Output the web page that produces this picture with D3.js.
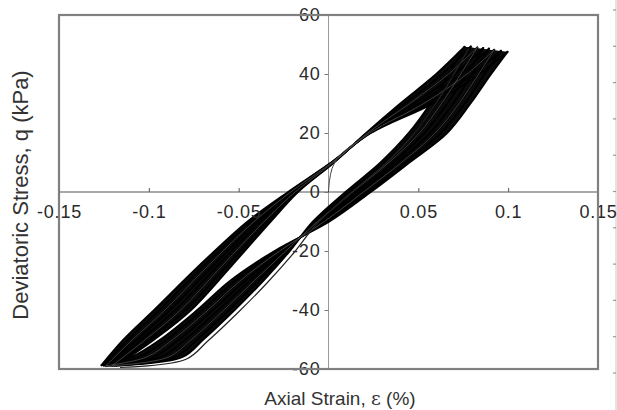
<!DOCTYPE html>
<html>
<head>
<meta charset="utf-8">
<script src="https://cdn.jsdelivr.net/npm/d3@7/dist/d3.min.js"></script>
<style>
  html, body { margin: 0; padding: 0; background: #fff; }
  svg { display: block; }
  text { font-family: "Liberation Sans", Arial, sans-serif; }
</style>
</head>
<body>
<svg id="chart" width="617" height="410"></svg>
<script>
// ---------------- data ----------------
const strainTicks = [-0.15, -0.1, -0.05, 0, 0.05, 0.1, 0.15];
const stressTicks = [-60, -40, -20, 0, 20, 40, 60];

// peak (top) and trough (bottom) corners of each cycle
const peakStrain   = [0.0757, 0.0792, 0.0828, 0.0861, 0.0893, 0.0922, 0.0960, 0.0996];
const peakStress   = [49.2, 49.3, 49.0, 48.8, 48.6, 48.2, 47.9, 47.5];
const troughStrain = [-0.1180, -0.1192, -0.1205, -0.1216, -0.1228, -0.1239, -0.1251, -0.1263];
const troughStress = [-58.8, -58.8, -58.9, -58.8, -58.8, -58.9, -58.8, -58.7];

// loading branches (trough -> peak): strain at these stress levels
const loadLevels = [-50, -40, -25, -10, 0, 10, 20, 30, 40];
const loadStrain = [
  [-0.0970, -0.0765, -0.0540, -0.0322, -0.0170, 0.0030, 0.0210, 0.0400, 0.0600],
  [-0.0995, -0.0795, -0.0565, -0.0340, -0.0178, 0.0028, 0.0214, 0.0426, 0.0634],
  [-0.1018, -0.0823, -0.0592, -0.0358, -0.0186, 0.0026, 0.0218, 0.0452, 0.0668],
  [-0.1042, -0.0852, -0.0618, -0.0377, -0.0194, 0.0023, 0.0222, 0.0478, 0.0703],
  [-0.1066, -0.0882, -0.0643, -0.0395, -0.0202, 0.0021, 0.0226, 0.0504, 0.0738],
  [-0.1090, -0.0910, -0.0670, -0.0414, -0.0210, 0.0019, 0.0229, 0.0530, 0.0771],
  [-0.1116, -0.0941, -0.0694, -0.0432, -0.0217, 0.0017, 0.0232, 0.0556, 0.0806],
  [-0.1140, -0.0970, -0.0720, -0.0450, -0.0225, 0.0015, 0.0235, 0.0580, 0.0840]
];

// unloading branches (peak -> trough): strain at these stress levels
const unloadLevels = [40, 30, 20, 10, 0, -10, -20, -30, -40, -50, -56];
const unloadStrain = [
  [0.0670, 0.0568, 0.0447, 0.0290, 0.0095, -0.0086, -0.0216, -0.0362, -0.0523, -0.0697, -0.0815],
  [0.0706, 0.0601, 0.0476, 0.0313, 0.0116, -0.0072, -0.0227, -0.0387, -0.0553, -0.0730, -0.0855],
  [0.0736, 0.0629, 0.0506, 0.0336, 0.0134, -0.0061, -0.0238, -0.0412, -0.0582, -0.0763, -0.0893],
  [0.0769, 0.0661, 0.0534, 0.0361, 0.0156, -0.0047, -0.0249, -0.0437, -0.0612, -0.0797, -0.0935],
  [0.0801, 0.0694, 0.0566, 0.0384, 0.0176, -0.0034, -0.0261, -0.0462, -0.0642, -0.0832, -0.0975],
  [0.0836, 0.0726, 0.0594, 0.0406, 0.0194, -0.0023, -0.0272, -0.0490, -0.0671, -0.0866, -0.1015],
  [0.0869, 0.0759, 0.0626, 0.0429, 0.0216, -0.0011, -0.0286, -0.0518, -0.0701, -0.0900, -0.1058],
  [0.0905, 0.0790, 0.0660, 0.0450, 0.0235, 0.0005, -0.0300, -0.0545, -0.0730, -0.0935, -0.1100]
];

// virgin (first) loading from the origin
const virginStrain = [0, 0.0006, 0.0020, 0.0050, 0.0095, 0.0150];
const virginStress = [0, 4.0, 8.0, 11.5, 14.2, 16.8];

// ---------------- drawing ----------------
const svg = d3.select("#chart");
const pLeft = 59, pRight = 598, pTop = 15, pBottom = 369;
const x = d3.scaleLinear().domain([-0.15, 0.15]).range([pLeft, pRight]);
const y = d3.scaleLinear().domain([-60, 60]).range([pBottom, pTop]);

const line = d3.line()
  .x(d => x(d[0])).y(d => y(d[1]))
  .curve(d3.curveCatmullRom.alpha(0.5));

// faint fragment of neighbouring axis at the right edge
const yR = d3.scaleLinear().domain([0, 10]).range([10, 373]);
const gR = svg.append("g").attr("transform", "translate(616,0)");
gR.append("line").attr("x1", 0).attr("x2", 0).attr("y1", 0).attr("y2", 410)
  .attr("stroke", "#c8c8c8").attr("stroke-width", 1);
gR.selectAll("line.t").data(d3.range(0, 11)).join("line").attr("class", "t")
  .attr("x1", -3).attr("x2", 0).attr("y1", d => yR(d)).attr("y2", d => yR(d))
  .attr("stroke", "#999").attr("stroke-width", 1.2);

// zero axes
svg.append("line").attr("x1", pLeft).attr("x2", pRight).attr("y1", y(0)).attr("y2", y(0))
  .attr("stroke", "#555").attr("stroke-width", 1.2);
svg.append("line").attr("x1", x(0)).attr("x2", x(0)).attr("y1", pTop).attr("y2", pBottom)
  .attr("stroke", "#9a9a9a").attr("stroke-width", 1);

// branches
const loads = peakStrain.map((_, k) => [[troughStrain[k], troughStress[k]]]
  .concat(loadLevels.map((q, i) => [loadStrain[k][i], q]))
  .concat([[peakStrain[k], peakStress[k]]]));
const unloads = peakStrain.map((_, k) => [[peakStrain[k], peakStress[k]]]
  .concat(unloadLevels.map((q, i) => [unloadStrain[k][i], q]))
  .concat([[troughStrain[k], troughStress[k]]]));

const n = peakStrain.length - 1;
// dense bundle of cycles: fill between first and last cycle of each branch
const gLoops = svg.append("g");
const bandPath = (a, b) => line(a) + "L" + line(b.slice().reverse()).slice(1) + "Z";
gLoops.append("path").attr("d", bandPath(loads[0], loads[n]))
  .attr("fill", "#0b0b0b").attr("fill-rule", "nonzero");
gLoops.append("path").attr("d", bandPath(unloads[0], unloads[n]))
  .attr("fill", "#0b0b0b").attr("fill-rule", "nonzero");

const gLines = svg.append("g").attr("fill", "none").attr("stroke", "#000")
  .attr("stroke-linejoin", "round").attr("stroke-linecap", "round");
loads.forEach(b => gLines.append("path").attr("d", line(b)).attr("stroke-width", 2));
unloads.forEach(b => gLines.append("path").attr("d", line(b)).attr("stroke-width", 2));
// a few lighter streaks like the scanned original
[2, 5].forEach(k => {
  gLines.append("path").attr("d", line(loads[k])).attr("stroke", "#6a6a6a").attr("stroke-width", 0.6);
  gLines.append("path").attr("d", line(unloads[k])).attr("stroke", "#6a6a6a").attr("stroke-width", 0.6);
});
// first unloading branch is seen as a thin separate line on the outside
gLines.append("path").attr("d", line(unloads[0])).attr("stroke", "#222").attr("stroke-width", 1.2)
  .attr("transform", "translate(4,2)");
gLines.append("path")
  .attr("d", line(virginStrain.map((s, i) => [s, virginStress[i]])))
  .attr("stroke", "#444").attr("stroke-width", 1);

// x axis ticks + labels (ticks point up)
const tickFont = '"Liberation Sans", Arial, sans-serif';
const xAxis = d3.axisBottom(x)
  .tickValues(strainTicks.filter(d => d !== 0))
  .tickFormat(d => String(d))
  .tickSizeInner(-4).tickSizeOuter(0).tickPadding(13);
const gx = svg.append("g").attr("transform", `translate(0,${y(0)})`).call(xAxis);
gx.select(".domain").remove();
gx.selectAll(".tick line").attr("stroke", "#555");
gx.selectAll(".tick text").attr("font-size", 18).attr("letter-spacing", 0.8)
  .attr("fill", "#2a2a2a").attr("font-family", tickFont);

// y axis ticks + labels
const yAxis = d3.axisLeft(y)
  .tickValues(stressTicks)
  .tickFormat(d => String(d))
  .tickSizeInner(4).tickSizeOuter(0).tickPadding(4);
const gy = svg.append("g").attr("transform", `translate(${x(0)},0)`).call(yAxis);
gy.select(".domain").remove();
gy.selectAll(".tick line").attr("stroke", "#777");
gy.selectAll(".tick text").attr("font-size", 18).attr("letter-spacing", 0.8)
  .attr("fill", "#2a2a2a").attr("font-family", tickFont);

// frame
svg.append("rect").attr("x", pLeft).attr("y", pTop)
  .attr("width", pRight - pLeft).attr("height", pBottom - pTop)
  .attr("fill", "none").attr("stroke", "#808080").attr("stroke-width", 2.2);

// titles
const xt = svg.append("text").attr("x", 340).attr("y", 405).attr("text-anchor", "middle")
  .attr("font-size", 19).attr("fill", "#333");
xt.append("tspan").text("Axial Strain, ");
xt.append("tspan").attr("font-family", '"DejaVu Serif", serif').text("ε");
xt.append("tspan").text("  (%)");

svg.append("text").attr("transform", "translate(28,195) rotate(-90)")
  .attr("text-anchor", "middle").attr("font-size", 22).attr("fill", "#333")
  .text("Deviatoric Stress, q (kPa)");
</script>
</body>
</html>
